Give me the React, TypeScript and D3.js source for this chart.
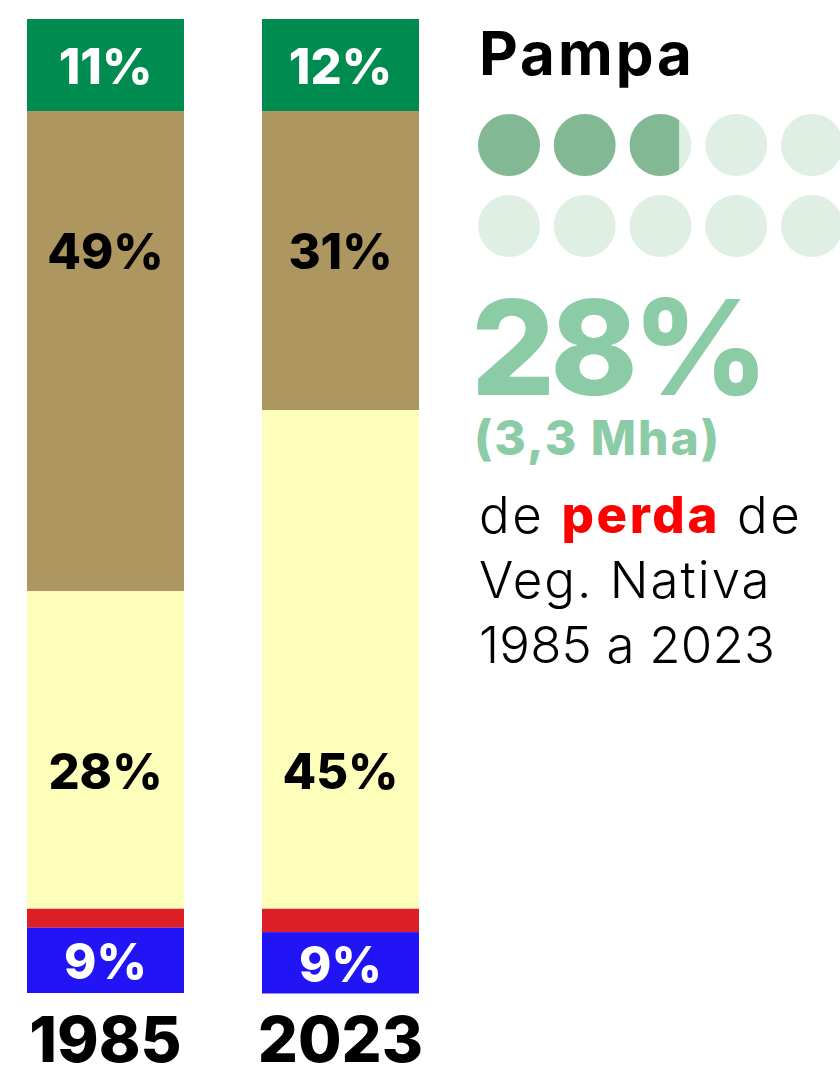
import React, { useEffect, useRef } from 'react';
import * as d3 from 'd3';

const years = ['1985', '2023'];
const classes = ['Floresta', 'Campo', 'Agropecuária', 'Não vegetado', 'Água'];
const values1985 = [9.45, 49.3, 32.6, 1.95, 6.7];
const values2023 = [9.45, 30.7, 51.2, 2.4, 6.3];
const labels1985 = ['11%', '49%', '28%', '', '9%'];
const labels2023 = ['12%', '31%', '45%', '', '9%'];
const colors = ['#008c51', '#ae9661', '#fefebb', '#dc1f26', '#2114f5'];
const labelColors = ['#ffffff', '#000000', '#000000', '#ffffff', '#ffffff'];
// where the % label sits in each segment
const labelAnchor = ['center', 'top', 'bottom', 'none', 'center'];

const biome = 'Pampa';
const lossPct = 28;
const lossArea = '(3,3 Mha)';
const dotCount = 10;

const FONT = 'Inter, "Open Sans", sans-serif';

const App = () => {
  const ref = useRef<SVGSVGElement>(null);

  const graph = () => {
    const svg = d3.select(ref.current);
    svg.selectAll('*').remove();

    const width = 840, height = 1069;
    const margin = { top: 19, bottom: 76, left: 27 };

    const rows = years.map((y, i) => {
      const vals = i === 0 ? values1985 : values2023;
      const r: any = { year: y };
      classes.forEach((c, j) => (r[c] = vals[j]));
      return r;
    });
    const labels = [labels1985, labels2023];

    const x = d3.scaleBand().domain(years)
      .range([margin.left, 419])
      .paddingInner(0.332)
      .paddingOuter(0);

    const y = d3.scaleLinear().domain([0, 100])
      .range([margin.top, height - margin.bottom]);

    const stacked = d3.stack().keys(classes)(rows);

    const g = svg.append('g');
    stacked.forEach((layer, j) => {
      g.selectAll(`rect.s${j}`)
        .data(layer)
        .enter()
        .append('rect')
        .attr('class', `s${j}`)
        .attr('x', (d: any) => x(d.data.year))
        .attr('width', x.bandwidth())
        .attr('y', d => y(d[0]))
        .attr('height', d => y(d[1]) - y(d[0]))
        .attr('fill', colors[j]);
    });

    const off = 139;
    stacked.forEach((layer, j) => {
      if (labelAnchor[j] === 'none') return;
      g.selectAll(`text.l${j}`)
        .data(layer)
        .enter()
        .append('text')
        .attr('class', `l${j}`)
        .attr('x', (d: any) => x(d.data.year) + x.bandwidth() / 2)
        .attr('y', d => {
          let cy = (y(d[0]) + y(d[1])) / 2;
          if (labelAnchor[j] === 'top') cy = y(d[0]) + off;
          if (labelAnchor[j] === 'bottom') cy = y(d[1]) - off;
          return cy + 19;
        })
        .attr('text-anchor', 'middle')
        .attr('fill', labelColors[j])
        .style('font-family', FONT)
        .style('font-weight', 800)
        .style('font-size', '49px')
        .text((d: any, i) => labels[i][j]);
    });

    g.selectAll('text.year')
      .data(years)
      .enter()
      .append('text')
      .attr('class', 'year')
      .attr('x', d => x(d) + x.bandwidth() / 2)
      .attr('y', 1062)
      .attr('text-anchor', 'middle')
      .style('font-family', FONT)
      .style('font-weight', 800)
      .style('font-size', '63px')
      .text(d => d);

    // right panel
    const r = svg.append('g');
    r.append('text')
      .attr('x', 479).attr('y', 75)
      .style('font-family', FONT).style('font-weight', 700).style('font-size', '60px')
      .style('letter-spacing', '3px')
      .text(biome);

    const cx = d3.scaleLinear().domain([0, 4]).range([509, 812]);
    const cy = d3.scaleLinear().domain([0, 1]).range([145, 226]);
    const rad = 31;
    const dots = d3.range(dotCount);
    const filled = lossPct / (100 / dotCount);

    const defs = svg.append('defs');
    dots.forEach(i => {
      const frac = Math.max(0, Math.min(1, filled - i));
      const px = cx(i % 5), py = cy(Math.floor(i / 5));
      defs.append('clipPath').attr('id', `dc${i}`)
        .append('rect')
        .attr('x', px - rad).attr('y', py - rad)
        .attr('width', 2 * rad * frac).attr('height', 2 * rad);
    });
    r.selectAll('circle.bg')
      .data(dots).enter().append('circle')
      .attr('class', 'bg')
      .attr('cx', i => cx(i % 5)).attr('cy', i => cy(Math.floor(i / 5)))
      .attr('r', rad).attr('fill', '#e0efe3');
    r.selectAll('circle.fg')
      .data(dots).enter().append('circle')
      .attr('class', 'fg')
      .attr('cx', i => cx(i % 5)).attr('cy', i => cy(Math.floor(i / 5)))
      .attr('r', rad).attr('fill', '#82b994')
      .attr('clip-path', i => `url(#dc${i})`);

    r.append('text')
      .attr('x', 471).attr('y', 395)
      .attr('fill', '#8bcba5')
      .style('font-family', FONT).style('font-weight', 800).style('font-size', '132px')
      .style('letter-spacing', '-5px')
      .text(`${lossPct}%`);
    r.append('text')
      .attr('x', 474).attr('y', 455)
      .attr('fill', '#8bcba5')
      .style('font-family', FONT).style('font-weight', 800).style('font-size', '48px')
      .style('letter-spacing', '2px')
      .text(lossArea);

    const line1 = r.append('text')
      .attr('x', 479).attr('y', 533)
      .style('font-family', FONT).style('font-weight', 300).style('font-size', '51px')
      .style('letter-spacing', '2.6px');
    line1.append('tspan').text('de ');
    line1.append('tspan').attr('fill', '#ff0000').style('font-weight', 800).text('perda');
    line1.append('tspan').text(' de');
    r.append('text')
      .attr('x', 479).attr('y', 598)
      .style('font-family', FONT).style('font-weight', 300).style('font-size', '51px')
      .style('letter-spacing', '2px')
      .text('Veg. Nativa');
    r.append('text')
      .attr('x', 479).attr('y', 663)
      .style('font-family', FONT).style('font-weight', 300).style('font-size', '51px')
      .style('letter-spacing', '0.2px')
      .text('1985 a 2023');
  };

  useEffect(() => graph());

  return (
    <svg ref={ref} width="840" height="1069"
      style={{ position: 'absolute', left: 0, top: 0, display: 'block' }}></svg>
  );
};

export default App;
